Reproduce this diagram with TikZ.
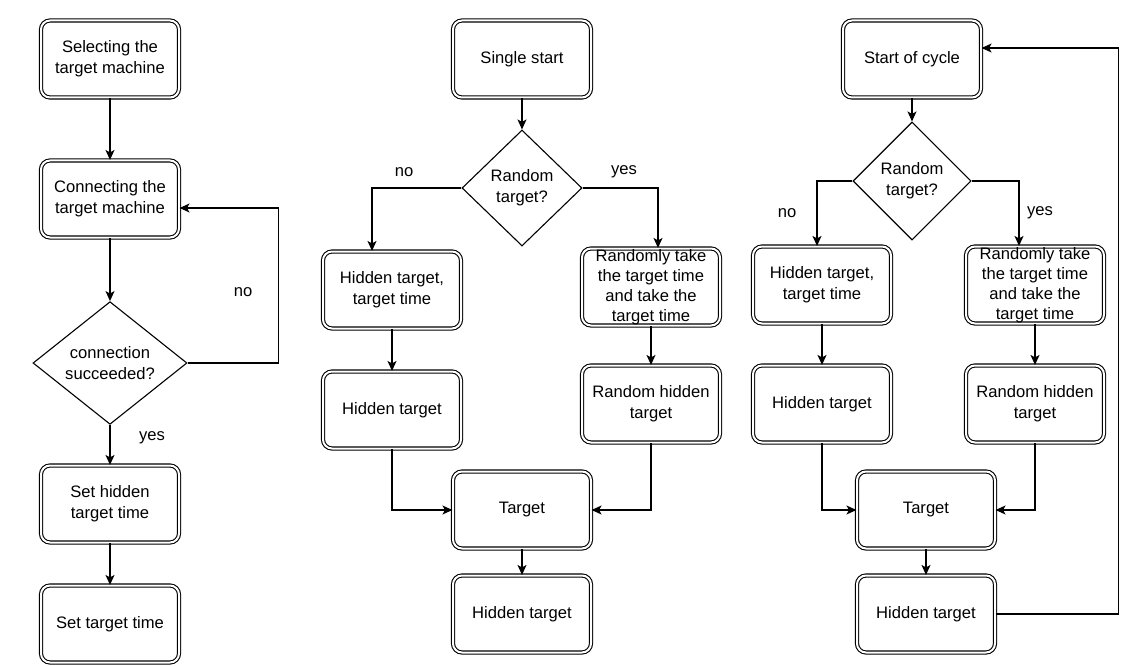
\documentclass[tikz,border=0pt]{standalone}
\usepackage{fontspec}
\setmainfont{Liberation Sans}
\usetikzlibrary{arrows.meta}
\usetikzlibrary{shapes.geometric}
\tikzset{arr/.style = {-{Stealth[length = 10pt, width = 9pt, inset = 2.5pt]}}}
\tikzset{box/.style = {draw, double, double distance = 2pt, rounded corners = 9pt,
                       minimum width = 138pt, minimum height = 77pt, inner sep = 0,
                       align = center, font = \fontsize{16.6}{21}\selectfont}}
\tikzset{tight/.style = {font = \fontsize{16.6}{20}\selectfont}}
\tikzset{dec/.style = {draw, diamond, inner sep = 0, align = center,
                       font = \fontsize{16.6}{21}\selectfont}}
\tikzset{lbl/.style = {font = \fontsize{16.6}{21}\selectfont}}

\begin{document}
\begin{tikzpicture}[x = 1pt, y = -1pt, line width = 1.1pt]
    \useasboundingbox (0, 0) rectangle (1128, 666);
    % connecting
    \node [box] (select) at (110, 59) {Selecting the\\ target machine};
    \node [box] (connect) at (110, 199) {Connecting the\\ target machine};
    \node [dec, minimum width = 154pt, minimum height = 116pt] (success) at (110, 363) {connection\\ succeeded?};
    \node [box] (sethidden) at (110, 504) {Set hidden\\ target time};
    \node [box] (settime) at (110, 624) {Set target time};
    \draw [arr] (select) -- (connect);
    \draw [arr] (connect) -- (success);
    \draw [arr] (success) -- (sethidden);
    \draw [arr] (sethidden) -- (settime);
    \draw [arr] (success.east) -- ++(91, 0) |- ([yshift = -9pt]connect.east);
    \node [lbl] (no1) at (243, 292) {no};
    \node [lbl] (yes1) at (152, 438) {yes};
    % single start
    \node [box] (single) at (522, 59) {Single start};
    \node [dec, minimum width = 120pt, minimum height = 116pt] (rand) at (522, 188) {Random\\ target?};
    \node [box] (hidtime) at (392, 290) {Hidden target,\\ target time};
    \node [box] (hidden) at (392, 410) {Hidden target};
    \node [box, tight] (randtime) at (651, 287) {Randomly take\\ the target time\\ and take the\\ target time};
    \node [box] (randhidden) at (651, 404) {Random hidden\\ target};
    \node [box] (target) at (522, 510) {Target};
    \node [box] (hidend) at (522, 614) {Hidden target};
    \draw [arr] (single) -- (rand);
    \draw [arr] (rand.west) -| ([xshift = -20pt]hidtime.north);
    \draw [arr] (rand.east) -| ([xshift = 7pt]randtime.north);
    \draw [arr] (hidtime) -- (hidden);
    \draw [arr] (randtime) -- (randhidden);
    \draw [arr] (hidden.south) |- (target.west);
    \draw [arr] (randhidden.south) |- (target.east);
    \draw [arr] (target) -- (hidend);
    \node [lbl] (no2) at (404, 172) {no};
    \node [lbl] (yes2) at (624, 172) {yes};
    % cycle
    \node [box] (cycle) at (912, 59) {Start of cycle};
    \node [dec, minimum width = 118pt, minimum height = 118pt] (crand) at (912, 181) {Random\\ target?};
    \node [box] (chidtime) at (822, 285) {Hidden target,\\ target time};
    \node [box] (chidden) at (822, 404) {Hidden target};
    \node [box, tight] (crandtime) at (1035, 285) {Randomly take\\ the target time\\ and take the\\ target time};
    \node [box] (crandhidden) at (1035, 404) {Random hidden\\ target};
    \node [box] (ctarget) at (926, 510) {Target};
    \node [box] (chidend) at (926, 614) {Hidden target};
    \draw [arr] (cycle) -- (crand);
    \draw [arr] (crand.west) -| ([xshift = -5pt]chidtime.north);
    \draw [arr] (crand.east) -| ([xshift = -16pt]crandtime.north);
    \draw [arr] (chidtime) -- (chidden);
    \draw [arr] (crandtime) -- (crandhidden);
    \draw [arr] (chidden.south) |- (ctarget.west);
    \draw [arr] (crandhidden.south) |- (ctarget.east);
    \draw [arr] (ctarget) -- (chidend);
    \draw [arr] (chidend.east) -- ++(123, 0) |- ([yshift = 11pt]cycle.east);
    \node [lbl] (no3) at (787, 213) {no};
    \node [lbl] (yes3) at (1040, 213) {yes};
\end{tikzpicture}
\end{document}
